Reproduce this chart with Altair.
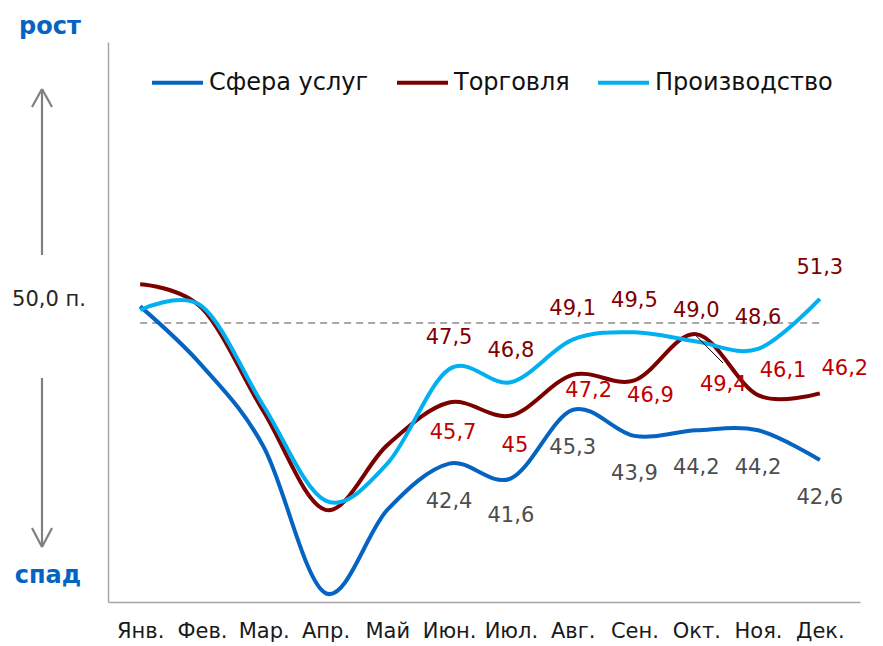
import json
import altair as alt
import pandas as pd

# ---------------- data ----------------
months = ["Янв.", "Фев.", "Мар.", "Апр.", "Май", "Июн.", "Июл.", "Авг.", "Сен.", "Окт.", "Ноя.", "Дек."]
series_names = ["Сфера услуг", "Торговля", "Производство"]
services = [50.9, 47.7, 43.3, 35.4, 39.9, 42.4, 41.6, 45.3, 43.9, 44.2, 44.2, 42.6]
trade = [52.1, 50.8, 45.2, 39.9, 43.4, 45.7, 45.0, 47.2, 46.9, 49.4, 46.1, 46.2]
production = [50.7, 50.9, 45.5, 40.4, 42.4, 47.5, 46.8, 49.1, 49.5, 49.0, 48.6, 51.3]
threshold = 50.0

# printed data labels (June .. December)
label_months = [5, 6, 7, 8, 9, 10, 11]
services_labels = ["42,4", "41,6", "45,3", "43,9", "44,2", "44,2", "42,6"]
trade_labels = ["45,7", "45", "47,2", "46,9", "49,4", "46,1", "46,2"]
production_labels = ["47,5", "46,8", "49,1", "49,5", "49,0", "48,6", "51,3"]

# ---------------- styling ----------------
colors = ["#0563C1", "#7B0000", "#00B0F0"]
FONT = "DejaVu Sans"
W, H = 752, 560

rows = []
for name, vals in zip(series_names, [services, trade, production]):
    for i, v in enumerate(vals):
        rows.append({"m": i, "v": v, "series": name})
df = pd.DataFrame(rows)

x_enc = alt.X(
    "m:Q",
    scale=alt.Scale(domain=[-0.52, 11.65], nice=False, zero=False),
    axis=alt.Axis(
        values=list(range(12)),
        labelExpr=json.dumps(months) + "[datum.value]",
        grid=False, ticks=False, title=None,
        domainColor="#A6A6A6", domainWidth=1.5,
        labelFont=FONT, labelFontSize=21, labelColor="#1a1a1a",
        labelPadding=18, labelOverlap=False,
    ),
)
y_enc = alt.Y(
    "v:Q",
    scale=alt.Scale(domain=[34.92, 65.19], nice=False, zero=False),
    axis=alt.Axis(labels=False, ticks=False, grid=False, title=None,
                  domainColor="#A6A6A6", domainWidth=1.5),
)

lines = alt.Chart(df).mark_line(interpolate="cardinal", strokeWidth=4).encode(
    x=x_enc,
    y=y_enc,
    color=alt.Color(
        "series:N",
        scale=alt.Scale(domain=series_names, range=colors),
        legend=alt.Legend(
            orient="none", legendX=42, legendY=13, direction="horizontal",
            title=None, symbolType="stroke", symbolSize=2600, symbolStrokeWidth=4,
            labelFont=FONT, labelFontSize=24, labelColor="#111111", labelLimit=400,
            columnPadding=20, labelOffset=4,
        ),
    ),
    detail="series:N",
)

ref = alt.Chart(pd.DataFrame({"m": [0], "m2": [11], "v": [threshold]})).mark_rule(
    color="#8C8C8C", strokeDash=[7, 5], strokeWidth=1.6
).encode(x="m:Q", x2="m2:Q", y="v:Q")


def text_layer(idx, vals, texts, color, dx, dy):
    d = pd.DataFrame({"m": [label_months[i] for i in idx],
                      "v": [vals[label_months[i]] for i in idx],
                      "t": [texts[i] for i in idx]})
    return alt.Chart(d).mark_text(
        font=FONT, fontSize=21, color=color, dx=dx, dy=dy,
        align="center", baseline="middle",
    ).encode(x="m:Q", y="v:Q", text="t:N")


lab_layers = [
    text_layer(range(7), services, services_labels, "#4D4D4D", 0, 38),
    text_layer(range(7), production, production_labels, "#7F0000", 0, -31),
    text_layer([0, 1], trade, trade_labels, "#C00000", 4, 30),
    text_layer([2, 3], trade, trade_labels, "#C00000", 16, 16),
    text_layer([4], trade, trade_labels, "#C00000", 27, 51),
    text_layer([5, 6], trade, trade_labels, "#C00000", 25, -24),
]

leader = alt.Chart(pd.DataFrame({"m": [9], "v": [49.3]})).mark_rule(
    color="#000000", strokeWidth=1
).encode(x="m:Q", y="v:Q", x2=alt.value(615), y2=alt.value(321))

# side annotations (growth / decline arrows)
segs = pd.DataFrame({
    "x1": [-66, -66, -66, -66, -66, -66],
    "y1": [47, 47, 47, 336, 505, 505],
    "x2": [-66, -76, -56, -66, -76, -56],
    "y2": [213, 65, 65, 505, 486, 486],
})
arrows = alt.Chart(segs).mark_rule(color="#808080", strokeWidth=2.2).encode(
    x=alt.X("x1:Q", scale=None), y=alt.Y("y1:Q", scale=None),
    x2="x2:Q", y2="y2:Q",
)

one = pd.DataFrame({"a": [0]})
t_up = alt.Chart(one).mark_text(text="рост", font=FONT, fontSize=24, fontWeight="bold",
                                color="#0563C1", align="center", baseline="alphabetic").encode(
    x=alt.value(-58), y=alt.value(-8))
t_down = alt.Chart(one).mark_text(text="спад", font=FONT, fontSize=24, fontWeight="bold",
                                  color="#0563C1", align="center", baseline="alphabetic").encode(
    x=alt.value(-60), y=alt.value(541))
t_50 = alt.Chart(one).mark_text(text="50,0 п.", font=FONT, fontSize=21,
                                color="#262626", align="center", baseline="alphabetic").encode(
    x=alt.value(-59), y=alt.value(264))

chart = alt.layer(ref, lines, leader, *lab_layers, arrows, t_up, t_down, t_50).properties(
    width=W, height=H,
    autosize="none",
    background="white",
    padding={"left": 100, "top": 34, "right": 15, "bottom": 40},
).configure_view(strokeWidth=0)

chart.save("out.html", embed_options={"renderer": "svg", "actions": False})
